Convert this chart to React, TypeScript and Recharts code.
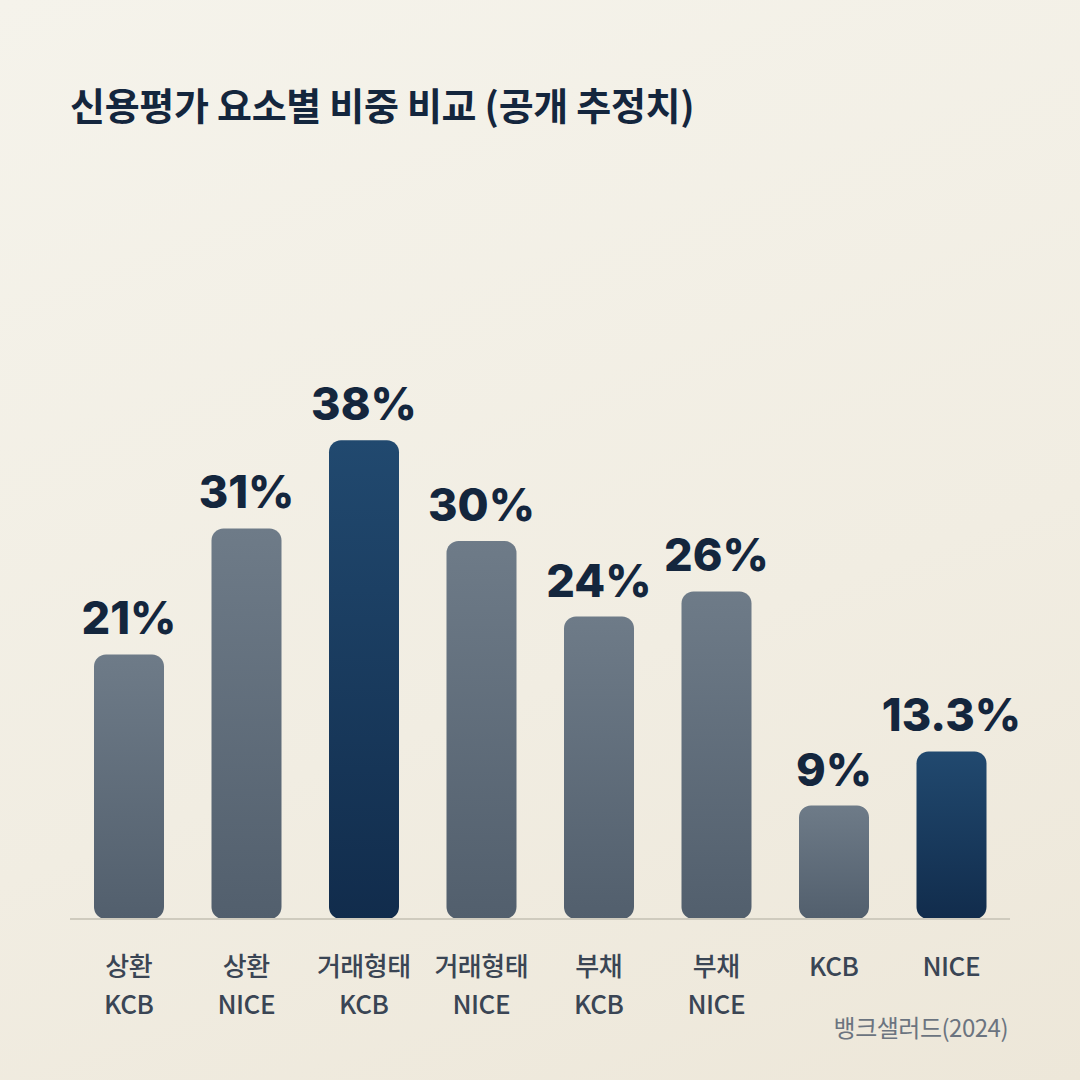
import React from 'react';
import { BarChart, Bar, XAxis, YAxis, Cell, LabelList } from 'recharts';

// categories split into two lines for the axis
const line1 = ['상환', '상환', '거래형태', '거래형태', '부채', '부채', 'KCB', 'NICE'];
const line2 = ['KCB', 'NICE', 'KCB', 'NICE', 'KCB', 'NICE', '', ''];
const values = [21, 31, 38, 30, 24, 26, 9, 13.3];
const highlighted = [false, false, true, false, false, false, false, true];

const data = values.map((v, i) => ({
  key: `${line1[i]} ${line2[i]}`.trim(),
  l1: line1[i],
  l2: line2[i],
  value: v,
}));

const KR = '"Noto Sans CJK KR", "Noto Sans", sans-serif';

const Tick = (props: any) => {
  const { x, y, payload } = props;
  const d = data[payload.index];
  return (
    <text
      x={x}
      y={y + 51}
      textAnchor="middle"
      fontFamily={KR}
      fontSize={26}
      fontWeight={500}
      fill="#3a4554"
      letterSpacing={-0.5}
    >
      <tspan x={x}>{d.l1}</tspan>
      {d.l2 && (
        <tspan x={x} dy={38}>
          {d.l2}
        </tspan>
      )}
    </text>
  );
};

export default function App() {
  return (
    <div
      style={{
        position: 'absolute',
        top: 0,
        left: 0,
        width: 1080,
        height: 1080,
        background: 'linear-gradient(160deg, #f5f3eb 0%, #f1ede2 60%, #ede7d9 100%)',
        overflow: 'hidden',
      }}
    >
      <div
        style={{
          position: 'absolute',
          left: 70,
          top: 76,
          fontFamily: KR,
          fontSize: 38,
          fontWeight: 700,
          color: '#14263d',
          letterSpacing: -0.3,
        }}
      >
        신용평가 요소별 비중 비교 (공개 추정치)
      </div>
      <BarChart
        width={1080}
        height={1080}
        data={data}
        margin={{ top: 415, right: 70, bottom: 0, left: 70 }}
        barSize={70}
      >
        <defs>
          <linearGradient id="gGrey" x1="0" y1="0" x2="0" y2="1">
            <stop offset="0%" stopColor="#6e7b88" />
            <stop offset="100%" stopColor="#525f6d" />
          </linearGradient>
          <linearGradient id="gNavy" x1="0" y1="0" x2="0" y2="1">
            <stop offset="0%" stopColor="#21496f" />
            <stop offset="100%" stopColor="#112c4c" />
          </linearGradient>
        </defs>
        <XAxis
          dataKey="key"
          height={161}
          interval={0}
          tickLine={false}
          tickMargin={0}
          axisLine={{ stroke: '#cfcbbe', strokeWidth: 2 }}
          tick={<Tick />}
        />
        <YAxis hide domain={[0, 40]} />
        <Bar dataKey="value" radius={12} isAnimationActive={false}>
          {data.map((d, i) => (
            <Cell key={d.key + i} fill={highlighted[i] ? 'url(#gNavy)' : 'url(#gGrey)'} />
          ))}
          <LabelList
            dataKey="value"
            position="top"
            offset={20}
            formatter={(v: any) => `${v}%`}
            style={{
              fontFamily: 'Inter, sans-serif',
              fontSize: 45,
              fontWeight: 800,
              fill: '#14263d',
            }}
          />
        </Bar>
      </BarChart>
      <div
        style={{
          position: 'absolute',
          right: 72,
          top: 1009,
          fontFamily: KR,
          fontSize: 24,
          color: '#6b7480',
          letterSpacing: -0.5,
        }}
      >
        뱅크샐러드(2024)
      </div>
    </div>
  );
}
